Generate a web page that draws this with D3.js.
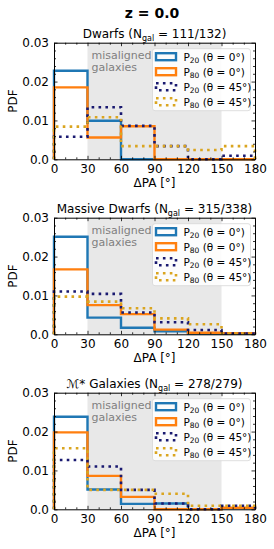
<!DOCTYPE html>
<html>
<head>
<meta charset="utf-8">
<script src="https://cdn.jsdelivr.net/npm/d3@7"></script>
<style>
  body { margin: 0; background: #fff; }
  svg { display: block; font-family: "DejaVu Sans", sans-serif; }
</style>
</head>
<body>
<div id="chart"></div>
<script>
// PA-offset histograms, three mass bins

const binEdges = [0, 30, 60, 90, 120, 150, 180];
const xTicks = [0, 30, 60, 90, 120, 150, 180];
const yTicks = [0.0, 0.01, 0.02, 0.03];
const yTickLabels = ["0.0", "0.01", "0.02", "0.03"];

const panelNames = ["Dwarfs", "Massive Dwarfs", "\u2133* Galaxies"];
const panelCounts = ["111/132", "315/338", "278/279"];

// values per bin, one array per panel
const p20Theta0 = [
  [0.0228, 0.0099, 0, 0, 0, 0],
  [0.0251, 0.0043, 0.0017, 0.0008, 0.0002, 0.0001],
  [0.0238, 0.0051, 0.0014, 0.0015, 0, 0.0003]
];
const p80Theta0 = [
  [0.0185, 0.0056, 0.0085, 0, 0, 0],
  [0.0167, 0.0075, 0.0052, 0.0012, 0.0004, 0.0003],
  [0.0198, 0.0086, 0.0032, 0, 0, 0.0004]
];
const p20Theta45 = [
  [0.0058, 0.0134, 0.0086, 0.0034, 0, 0.0009],
  [0.0110, 0.0104, 0.0056, 0.0031, 0.0011, 0.0002],
  [0.0127, 0.0110, 0.0050, 0.0015, 0, 0.0009]
];
const p80Theta45 = [
  [0.0084, 0.0108, 0.0034, 0.0034, 0.0024, 0.0034],
  [0.0097, 0.0084, 0.0067, 0.0041, 0.0026, 0.0002],
  [0.0157, 0.0050, 0.0050, 0.0040, 0.0009, 0.0009]
];

const seriesInfo = [
  {data: p20Theta0, color: "#1f77b4", dotted: false, sub: "20", ang: "0"},
  {data: p80Theta0, color: "#ff7f0e", dotted: false, sub: "80", ang: "0"},
  {data: p20Theta45, color: "#191970", dotted: true, sub: "20", ang: "45"},
  {data: p80Theta45, color: "#daa520", dotted: true, sub: "80", ang: "45"}
];

var width = 274, height = 549;
var axLeft = 54, axRight = 255;
var panelTops = [42.7, 217.7, 392.7];
var axH = 116.6;

var svg = d3.select("#chart").append("svg")
  .attr("width", width).attr("height", height);

svg.append("text")
  .attr("x", 152).attr("y", 18)
  .attr("text-anchor", "middle")
  .attr("font-size", 14).attr("font-weight", "bold")
  .text("z = 0.0");

var x = d3.scaleLinear().domain([0, 180]).range([axLeft, axRight]);

panelTops.forEach(function(top, p) {
  var y = d3.scaleLinear().domain([0, 0.03]).range([top + axH, top]);
  var g = svg.append("g");

  // shaded misaligned range
  g.append("rect")
    .attr("x", x(30)).attr("y", top)
    .attr("width", x(150) - x(30)).attr("height", axH)
    .attr("fill", "#e8e8e8");

  g.append("text")
    .attr("x", x(30) + 4).attr("y", top + 16)
    .attr("font-size", 11).attr("fill", "#7f7f7f")
    .text("misaligned");
  g.append("text")
    .attr("x", x(30) + 4).attr("y", top + 28)
    .attr("font-size", 11).attr("fill", "#7f7f7f")
    .text("galaxies");

  // step histograms
  seriesInfo.forEach(function(s) {
    var vals = s.data[p];
    var pts = [[binEdges[0], 0]];
    vals.forEach(function(v, i) {
      pts.push([binEdges[i], v]);
      pts.push([binEdges[i + 1], v]);
    });
    pts.push([binEdges[binEdges.length - 1], 0]);
    var line = d3.line().x(d => x(d[0])).y(d => y(d[1]));
    g.append("path")
      .attr("d", line(pts))
      .attr("fill", "none")
      .attr("stroke", s.color)
      .attr("stroke-width", s.dotted ? 2.6 : 2.4)
      .attr("stroke-dasharray", s.dotted ? "2.6,4.3" : null)
      .attr("stroke-linejoin", "miter");
  });

  // axes frame and ticks
  var bottom = top + axH;
  g.append("g").attr("transform", "translate(0," + bottom + ")")
    .call(d3.axisBottom(x).tickValues(xTicks).tickSizeInner(-3.5).tickSizeOuter(0).tickPadding(5))
    .call(a => a.selectAll("text").attr("font-size", 12).attr("fill", "#000").attr("font-family", "DejaVu Sans"));
  g.append("g").attr("transform", "translate(0," + top + ")")
    .call(d3.axisTop(x).tickValues(xTicks).tickSizeInner(-3.5).tickSizeOuter(0).tickFormat(""));
  g.append("g").attr("transform", "translate(0," + bottom + ")")
    .call(d3.axisBottom(x).tickValues(d3.range(10, 180, 10).filter(v => v % 30)).tickSizeInner(-2).tickSizeOuter(0).tickFormat(""))
    .call(a => a.select(".domain").remove());
  g.append("g").attr("transform", "translate(0," + top + ")")
    .call(d3.axisTop(x).tickValues(d3.range(10, 180, 10).filter(v => v % 30)).tickSizeInner(-2).tickSizeOuter(0).tickFormat(""))
    .call(a => a.select(".domain").remove());

  g.append("g").attr("transform", "translate(" + axLeft + ",0)")
    .call(d3.axisLeft(y).tickValues(yTicks).tickFormat((d, i) => yTickLabels[i]).tickSizeInner(-3.5).tickSizeOuter(0).tickPadding(5))
    .call(a => a.selectAll("text").attr("font-size", 12).attr("fill", "#000").attr("font-family", "DejaVu Sans"));
  g.append("g").attr("transform", "translate(" + axRight + ",0)")
    .call(d3.axisRight(y).tickValues(yTicks).tickSizeInner(-3.5).tickSizeOuter(0).tickFormat(""));
  var minorY = d3.range(1, 15).map(v => v * 0.002).filter(v => Math.abs(v * 100 - Math.round(v * 100)) > 1e-6);
  g.append("g").attr("transform", "translate(" + axLeft + ",0)")
    .call(d3.axisLeft(y).tickValues(minorY).tickSizeInner(-2).tickSizeOuter(0).tickFormat(""))
    .call(a => a.select(".domain").remove());
  g.append("g").attr("transform", "translate(" + axRight + ",0)")
    .call(d3.axisRight(y).tickValues(minorY).tickSizeInner(-2).tickSizeOuter(0).tickFormat(""))
    .call(a => a.select(".domain").remove());

  g.selectAll(".domain").attr("stroke", "#000").attr("stroke-width", 1);
  g.selectAll(".tick line").attr("stroke", "#000").attr("stroke-width", 0.8);

  // labels
  g.append("text")
    .attr("x", (axLeft + axRight) / 2).attr("y", bottom + 28)
    .attr("text-anchor", "middle").attr("font-size", 12)
    .text("\u0394PA [\u00b0]");
  g.append("text")
    .attr("transform", "translate(17," + (top + axH / 2) + ") rotate(-90)")
    .attr("text-anchor", "middle").attr("font-size", 12)
    .text("PDF");

  var t = g.append("text")
    .attr("x", (axLeft + axRight) / 2).attr("y", top - 5)
    .attr("text-anchor", "middle").attr("font-size", 12);
  t.append("tspan").text(panelNames[p] + " (N");
  t.append("tspan").attr("font-size", 8).attr("dy", 3).text("gal");
  t.append("tspan").attr("dy", -3).text(" = " + panelCounts[p] + ")");

  // legend
  var lg = g.append("g").attr("transform", "translate(152.5," + (top + 6) + ")");
  lg.append("rect")
    .attr("width", 98).attr("height", 62).attr("rx", 2.5)
    .attr("fill", "#fff").attr("fill-opacity", 0.85)
    .attr("stroke", "#d6d6d6").attr("stroke-width", 0.8);
  seriesInfo.forEach(function(s, i) {
    var ey = 8 + i * 15;
    lg.append("rect")
      .attr("x", 3.5).attr("y", ey - 3.5)
      .attr("width", 20).attr("height", 7)
      .attr("fill", "none").attr("stroke", s.color)
      .attr("stroke-width", s.dotted ? 2.6 : 2.4)
      .attr("stroke-dasharray", s.dotted ? "2.6,4.3" : null);
    var lt = lg.append("text")
      .attr("x", 31).attr("y", ey + 4)
      .attr("font-size", 10.5);
    lt.append("tspan").text("P");
    lt.append("tspan").attr("font-size", 7.5).attr("dy", 2.5).text(s.sub);
    lt.append("tspan").attr("dy", -2.5).text(" (\u03b8 = " + s.ang + "\u00b0)");
  });
});
</script>
</body>
</html>
